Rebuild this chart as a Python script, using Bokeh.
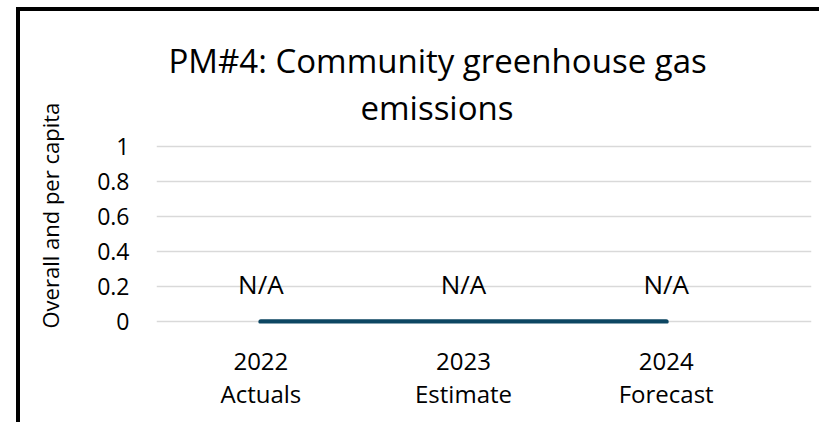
from bokeh.plotting import figure
from bokeh.models import Range1d, FixedTicker, Title, ColumnDataSource, Div
from bokeh.layouts import row, column
from bokeh.core.properties import value
from bokeh.embed import file_html
from bokeh.resources import INLINE

# ---- data ----
categories_year = ["2022", "2023", "2024"]
categories_kind = ["Actuals", "Estimate", "Forecast"]
series_values = [0, 0, 0]
point_labels = ["N/A", "N/A", "N/A"]
y_ticks = [0, 0.2, 0.4, 0.6, 0.8, 1]
y_tick_labels = ["0", "0.2", "0.4", "0.6", "0.8", "1"]
title_lines = ["PM#4: Community greenhouse gas", "emissions"]
y_axis_title = "Overall and per capita"

FONT = "Open Sans"
TEXT = "#000000"

xpos = list(range(len(categories_year)))
src = ColumnDataSource(dict(x=xpos, y=series_values, lab=point_labels))

p = figure(width=799, height=411, output_backend="svg", toolbar_location=None,
           title=None,
           x_range=Range1d(-0.515, 2.717), y_range=Range1d(-0.01, 1.01),
           min_border_left=135, min_border_right=8, min_border_top=133,
           min_border_bottom=99)
p.margin = 0
p.outline_line_color = None
p.background_fill_color = "white"
p.border_fill_color = "white"

# grid
p.xgrid.visible = False
p.ygrid.ticker = FixedTicker(ticks=y_ticks)
p.ygrid.grid_line_color = "#d9d9d9"
p.ygrid.grid_line_width = 1.5

# y axis
ya = p.yaxis[0]
ya.ticker = FixedTicker(ticks=y_ticks)
ya.major_label_overrides = {t: l for t, l in zip(y_ticks, y_tick_labels)}
ya.axis_line_color = None
ya.major_tick_line_color = None
ya.minor_tick_line_color = None
ya.major_tick_out = 0
ya.major_tick_in = 0
ya.minor_tick_out = 0
ya.major_label_standoff = 27
ya.major_label_text_font = FONT
ya.major_label_text_font_size = "23px"
ya.major_label_text_color = TEXT

# x axis
xa = p.xaxis[0]
xa.ticker = FixedTicker(ticks=xpos)
xa.major_label_overrides = {i: f"{a}\n{b}" for i, a, b in zip(xpos, categories_year, categories_kind)}
xa.axis_line_color = None
xa.major_tick_line_color = None
xa.minor_tick_line_color = None
xa.major_tick_out = 0
xa.major_tick_in = 0
xa.minor_tick_out = 0
xa.major_label_standoff = 20
xa.major_label_text_font = FONT
xa.major_label_text_font_size = "24px"
xa.major_label_text_color = TEXT
xa.major_label_text_line_height = 1.0

# series
p.line("x", "y", source=src, line_color="#0C4662", line_width=5, line_cap="round")
p.text("x", "y", text="lab", source=src, text_align="center", text_baseline="alphabetic",
       y_offset=-38, text_font=value(FONT), text_font_size="26px", text_color=TEXT)

# title: spacer, then second line, then first line (stacked upward)
p.add_layout(Title(text=" ", text_font=FONT, text_font_size="9px", standoff=0), "above")
p.add_layout(Title(text=title_lines[1], align="left", offset=204, vertical_align="bottom",
                   text_font=FONT, text_font_size="33px", text_font_style="normal",
                   text_color=TEXT, standoff=0), "above")
p.add_layout(Title(text=title_lines[0], align="left", offset=12, vertical_align="bottom",
                   text_font=FONT, text_font_size="33px", text_font_style="normal",
                   text_color=TEXT, standoff=0), "above")

# y axis title as a left-side title, with a small spacer between it and the tick labels
p.add_layout(Title(text=" ", text_font=FONT, text_font_size="11.75px", standoff=0), "left")
p.add_layout(Title(text=y_axis_title, align="left", offset=-5, vertical_align="bottom",
                   text_font=FONT, text_font_size="22px", text_font_style="normal",
                   text_color=TEXT, standoff=24), "left")

# frame border (top and left edges of the chart box)
left_bar = Div(text="", width=4, height=415, margin=(7, 0, 0, 16),
               styles={"background-color": "#000000"})
top_bar = Div(text="", width=799, height=4, margin=(7, 0, 0, 0),
              styles={"background-color": "#000000"})
layout = row(left_bar, column(top_bar, p, spacing=0), spacing=0)

open("out.html", "w").write(file_html(layout, INLINE))
